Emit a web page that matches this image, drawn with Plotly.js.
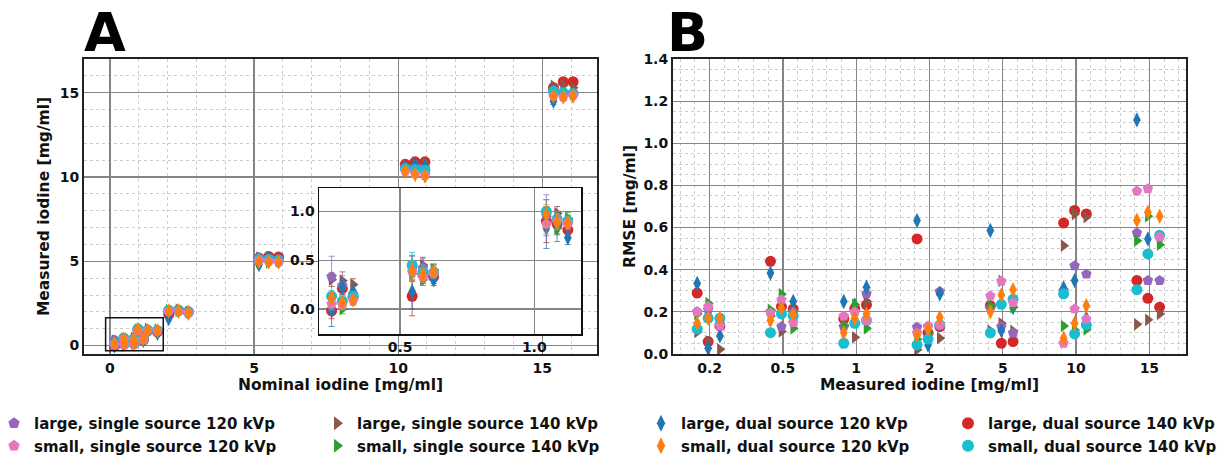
<!DOCTYPE html>
<html><head><meta charset="utf-8">
<script src="https://cdn.plot.ly/plotly-3.0.1.min.js"></script>
<style>html,body{margin:0;padding:0;background:#fff}#chart{width:1228px;height:455px}</style>
</head><body><div id="chart"></div>
<script>
// ---------- data ----------
const concLabels = ['0.2','0.5','1','2','5','10','15'];
const concNominal = [0.2, 0.5, 1, 2, 5, 10, 15];
// plotted x position of each concentration group in panel A
const xPlotA = [0.16, 0.48, 0.97, 2.04, 5.17, 10.25, 15.39];
const repOffsetA = [0, 0.34, 0.68];
const repOffsetInset = [0.045, 0.085, 0.125];
const repOffsetB = [-0.17, -0.02, 0.14];

// measured iodine (mean), 3 repeats per concentration (0.2,0.5,1,2,5,10,15)
const measLSS120 = [0.33,0.24,0.15, 0.42,0.42,0.38, 0.96,0.90,0.87, 2.08,2.10,1.97, 5.22,5.20,5.15, 10.55,10.60,10.55, 15.10,15.00,15.00];
const measLSS140 = [0.30,0.29,0.25, 0.42,0.45,0.40, 0.95,0.98,0.90, 2.05,2.12,1.98, 5.22,5.25,5.10, 10.70,10.85,10.85, 15.40,15.45,15.30];
const measLDS120 = [-0.02,0.22,0.18, 0.18,0.32,0.30, 0.83,0.83,0.73, 1.60,2.05,1.95, 4.80,5.15,5.00, 10.55,10.70,10.60, 14.50,14.90,14.85];
const measLDS140 = [-0.02,0.21,0.12, 0.13,0.35,0.33, 0.90,0.87,0.81, 1.85,2.10,2.00, 5.20,5.28,5.25, 10.75,10.90,10.90, 15.30,15.65,15.65];
const measSSS120 = [0.05,0.04,0.09, 0.38,0.33,0.37, 0.87,0.90,0.88, 2.05,2.03,1.95, 5.05,5.00,4.95, 10.35,10.20,10.10, 14.80,14.75,14.85];
const measSSS140 = [0.05,0.00,0.10, 0.36,0.30,0.40, 0.88,0.83,0.93, 2.10,2.05,1.98, 5.02,4.95,5.00, 10.40,10.30,10.20, 15.00,14.95,14.90];
const measSDS120 = [0.11,0.07,0.09, 0.39,0.35,0.38, 0.97,0.89,0.88, 2.05,2.05,1.93, 4.98,4.95,4.95, 10.35,10.15,10.05, 14.80,14.75,14.80];
const measSDS140 = [0.13,0.08,0.13, 0.45,0.38,0.37, 1.00,0.92,0.90, 2.10,2.08,1.97, 5.10,5.10,5.05, 10.50,10.45,10.40, 15.10,15.00,14.95];

// error bars (std) of the measured iodine
const errLSS120 = [0.21,0.10,0.08, 0.12,0.10,0.08, 0.21,0.10,0.08, 0.10,0.10,0.08, 0.10,0.10,0.08, 0.12,0.12,0.10, 0.15,0.12,0.12];
const errLSS140 = [0.07,0.09,0.06, 0.13,0.08,0.06, 0.10,0.07,0.06, 0.08,0.08,0.06, 0.08,0.08,0.06, 0.10,0.10,0.10, 0.12,0.10,0.10];
const errLDS120 = [0.16,0.07,0.06, 0.18,0.06,0.06, 0.21,0.14,0.07, 0.15,0.10,0.08, 0.15,0.10,0.08, 0.15,0.12,0.10, 0.20,0.15,0.12];
const errLDS140 = [0.08,0.06,0.06, 0.20,0.08,0.07, 0.22,0.10,0.07, 0.12,0.10,0.08, 0.10,0.10,0.08, 0.12,0.12,0.10, 0.15,0.12,0.12];
const errSSS120 = [0.06,0.05,0.05, 0.08,0.06,0.05, 0.10,0.08,0.06, 0.08,0.08,0.06, 0.08,0.08,0.06, 0.10,0.10,0.08, 0.12,0.10,0.10];
const errSSS140 = [0.05,0.05,0.05, 0.08,0.06,0.05, 0.08,0.07,0.06, 0.08,0.08,0.06, 0.08,0.08,0.06, 0.10,0.10,0.08, 0.12,0.10,0.10];
const errSDS120 = [0.06,0.05,0.05, 0.10,0.06,0.05, 0.10,0.08,0.06, 0.08,0.08,0.06, 0.08,0.08,0.06, 0.10,0.10,0.08, 0.12,0.10,0.10];
const errSDS140 = [0.06,0.05,0.05, 0.13,0.07,0.06, 0.12,0.08,0.06, 0.08,0.08,0.06, 0.08,0.08,0.06, 0.10,0.10,0.08, 0.12,0.10,0.10];

// RMSE per concentration and repeat
const rmseLSS120 = [0.200,0.210,0.140, 0.200,0.130,0.200, 0.130,0.200,0.286, 0.127,0.130,0.297, 0.220,0.130,0.100, 0.300,0.419,0.379, 0.575,0.349,0.349];
const rmseLSS140 = [0.105,0.060,0.022, 0.180,0.107,0.200, 0.130,0.079,0.250, 0.020,0.100,0.075, 0.110,0.146,0.110, 0.514,0.664,0.650, 0.141,0.162,0.190];
const rmseLDS120 = [0.335,0.027,0.086, 0.384,0.200,0.249, 0.249,0.233,0.317, 0.633,0.043,0.286, 0.586,0.111,0.220, 0.313,0.349,0.170, 1.111,0.546,0.545];
const rmseLDS140 = [0.289,0.059,0.133, 0.440,0.225,0.213, 0.167,0.215,0.233, 0.546,0.101,0.130, 0.229,0.051,0.059, 0.622,0.681,0.665, 0.349,0.264,0.222];
const rmseSSS120 = [0.200,0.225,0.133, 0.195,0.257,0.149, 0.180,0.200,0.159, 0.100,0.133,0.140, 0.276,0.345,0.244, 0.051,0.214,0.165, 0.773,0.784,0.555];
const rmseSSS140 = [0.190,0.241,0.160, 0.210,0.284,0.122, 0.138,0.235,0.122, 0.070,0.100,0.150, 0.229,0.347,0.222, 0.133,0.114,0.117, 0.538,0.654,0.519];
const rmseSDS120 = [0.146,0.170,0.170, 0.159,0.217,0.189, 0.101,0.170,0.190, 0.090,0.119,0.173, 0.200,0.280,0.305, 0.075,0.146,0.229, 0.635,0.673,0.654];
const rmseSDS140 = [0.119,0.170,0.170, 0.101,0.190,0.180, 0.051,0.146,0.160, 0.043,0.071,0.138, 0.100,0.236,0.260, 0.286,0.095,0.138, 0.305,0.475,0.563];

const seriesNames = ['large, single source 120 kVp','large, single source 140 kVp','large, dual source 120 kVp','large, dual source 140 kVp',
                     'small, single source 120 kVp','small, single source 140 kVp','small, dual source 120 kVp','small, dual source 140 kVp'];

// ---------- styles ----------
const colors  = ['#9467bd','#8c564b','#1f77b4','#d62728','#e377c2','#2ca02c','#ff7f0e','#17becf'];
const symbols = ['pentagon','triangle-right','diamond-tall','circle','pentagon','triangle-right','diamond-tall','circle'];
const legendOf = ['legend','legend2','legend3','legend4','legend','legend2','legend3','legend4'];
const measAll = [measLSS120,measLSS140,measLDS120,measLDS140,measSSS120,measSSS140,measSDS120,measSDS140];
const errAll  = [errLSS120,errLSS140,errLDS120,errLDS140,errSSS120,errSSS140,errSDS120,errSDS140];
const rmseAll = [rmseLSS120,rmseLSS140,rmseLDS120,rmseLDS140,rmseSSS120,rmseSSS140,rmseSDS120,rmseSDS140];
// drawing order (z-order) of the series
const drawOrder = [3,1,0,2,5,7,4,6];

function rgba(hex,a){const n=parseInt(hex.slice(1),16);return `rgba(${n>>16},${(n>>8)&255},${n&255},${a})`;}

const traces = [];
const FONT = "'DejaVu Sans', Verdana, sans-serif";

drawOrder.forEach(s => {
  const xA=[], yA=[], eA=[], xI=[], yI=[], eI=[], xB=[], yB=[];
  for (let c=0;c<concNominal.length;c++){
    for (let r=0;r<3;r++){
      const k=c*3+r;
      xA.push(xPlotA[c]+repOffsetA[r]); yA.push(measAll[s][k]); eA.push(errAll[s][k]);
      if (c<3){ xI.push(concNominal[c]+repOffsetInset[r]); yI.push(measAll[s][k]); eI.push(errAll[s][k]); }
      xB.push(c+repOffsetB[r]); yB.push(rmseAll[s][k]);
    }
  }
  const mk = {color:colors[s], symbol:symbols[s], size:11, line:{width:0}};
  const eb = (arr)=>({type:'data', array:arr, visible:true, color:rgba(colors[s],0.75), thickness:1, width:3});
  traces.push({type:'scatter', mode:'markers', name:seriesNames[s], x:xA, y:yA, error_y:eb(eA),
    marker:mk, xaxis:'x', yaxis:'y', legend:legendOf[s], legendrank: s<4?1:2, showlegend:true});
  traces.push({type:'scatter', mode:'markers', name:seriesNames[s], x:xI, y:yI, error_y:eb(eI),
    marker:mk, xaxis:'x3', yaxis:'y3', showlegend:false});
  traces.push({type:'scatter', mode:'markers', name:seriesNames[s], x:xB, y:yB,
    marker:Object.assign({},mk,{size:11}), xaxis:'x2', yaxis:'y2', showlegend:false});
});

const W=1228, H=455;
const px = v => v/W, py = v => 1 - v/H;
const majorGrid = '#858585', minorGrid = '#cccccc';
const tickFont = {family:FONT, size:14, color:'#111', weight:'bold'};
const titleFont = {family:FONT, size:15.5, color:'#111', weight:'bold'};
const frame = {showline:true, mirror:true, linecolor:'#222', linewidth:2, zeroline:false, ticks:'', automargin:false};

const legendBase = {orientation:'v', yanchor:'top', xanchor:'left', y:py(407), bgcolor:'rgba(0,0,0,0)',
  font:{family:FONT, size:15, color:'#111', weight:'bold'}, itemsizing:'constant', tracegroupgap:0, traceorder:'normal'};

const layout = {
  width:W, height:H, margin:{l:0,r:0,t:0,b:0,autoexpand:false}, paper_bgcolor:'#fff', plot_bgcolor:'#fff',
  font:{family:FONT, color:'#111'},
  xaxis: Object.assign({domain:[px(84),px(597)], range:[-0.9,16.9], tickvals:[0,5,10,15], anchor:'y',
    showgrid:true, gridcolor:majorGrid, gridwidth:1.2,
    minor:{dtick:1, tick0:0, showgrid:true, gridcolor:minorGrid, griddash:'dot', gridwidth:1},
    tickfont:tickFont, title:{text:'Nominal iodine [mg/ml]', font:titleFont, standoff:2}}, frame),
  yaxis: Object.assign({domain:[py(354),py(59)], range:[-0.5,17], tickvals:[0,5,10,15], anchor:'x',
    showgrid:true, gridcolor:majorGrid, gridwidth:1.2,
    minor:{dtick:1, tick0:0, showgrid:true, gridcolor:minorGrid, griddash:'dot', gridwidth:1},
    tickfont:tickFont, title:{text:'Measured iodine [mg/ml]', font:titleFont, standoff:6}}, frame),
  xaxis2: Object.assign({domain:[px(673),px(1186)], range:[-0.5,6.5], tickvals:[0,1,2,3,4,5,6], ticktext:concLabels, anchor:'y2',
    showgrid:true, gridcolor:majorGrid, gridwidth:1.2,
    minor:{dtick:0.2, tick0:0, showgrid:true, gridcolor:minorGrid, griddash:'dot', gridwidth:1},
    tickfont:tickFont, title:{text:'Measured iodine [mg/ml]', font:titleFont, standoff:2}}, frame),
  yaxis2: Object.assign({domain:[py(354),py(59)], range:[0,1.4], dtick:0.2, tick0:0, tickformat:'.1f', anchor:'x2',
    showgrid:true, gridcolor:majorGrid, gridwidth:1.2,
    minor:{dtick:0.05, tick0:0, showgrid:true, gridcolor:minorGrid, griddash:'dot', gridwidth:1},
    tickfont:tickFont, title:{text:'RMSE [mg/ml]', font:titleFont, standoff:4}}, frame),
  xaxis3: Object.assign({domain:[px(319),px(581)], range:[0.198,1.174], tickvals:[0.5,1.0], tickformat:'.1f',
    showgrid:true, gridcolor:majorGrid, gridwidth:1.2, tickfont:tickFont, anchor:'y3'}, frame, {linecolor:'#111', linewidth:1.5}),
  yaxis3: Object.assign({domain:[py(334),py(188)], range:[-0.257,1.24], tickvals:[0,0.5,1.0], tickformat:'.1f',
    showgrid:true, gridcolor:majorGrid, gridwidth:1.2, tickfont:tickFont, anchor:'x3'}, frame, {linecolor:'#111', linewidth:1.5}),
  shapes:[{type:'rect', xref:'x', yref:'y', x0:-0.15, x1:1.85, y0:-0.3, y1:1.65, line:{color:'#111', width:1.5}, layer:'above'}],
  annotations:[
    {xref:'paper', yref:'paper', x:px(82), y:py(33), xanchor:'left', yanchor:'middle', text:'A', showarrow:false,
     font:{family:"'DejaVu Sans', sans-serif", size:54, color:'#000', weight:'bold'}},
    {xref:'paper', yref:'paper', x:px(665), y:py(33), xanchor:'left', yanchor:'middle', text:'B', showarrow:false,
     font:{family:"'DejaVu Sans', sans-serif", size:54, color:'#000', weight:'bold'}}
  ],
  legend:  Object.assign({}, legendBase, {x:px(-6)}),
  legend2: Object.assign({}, legendBase, {x:px(317)}),
  legend3: Object.assign({}, legendBase, {x:px(641)}),
  legend4: Object.assign({}, legendBase, {x:px(948)}),
  showlegend:true
};

Plotly.newPlot('chart', traces, layout, {staticPlot:true, displayModeBar:false});
</script></body></html>
